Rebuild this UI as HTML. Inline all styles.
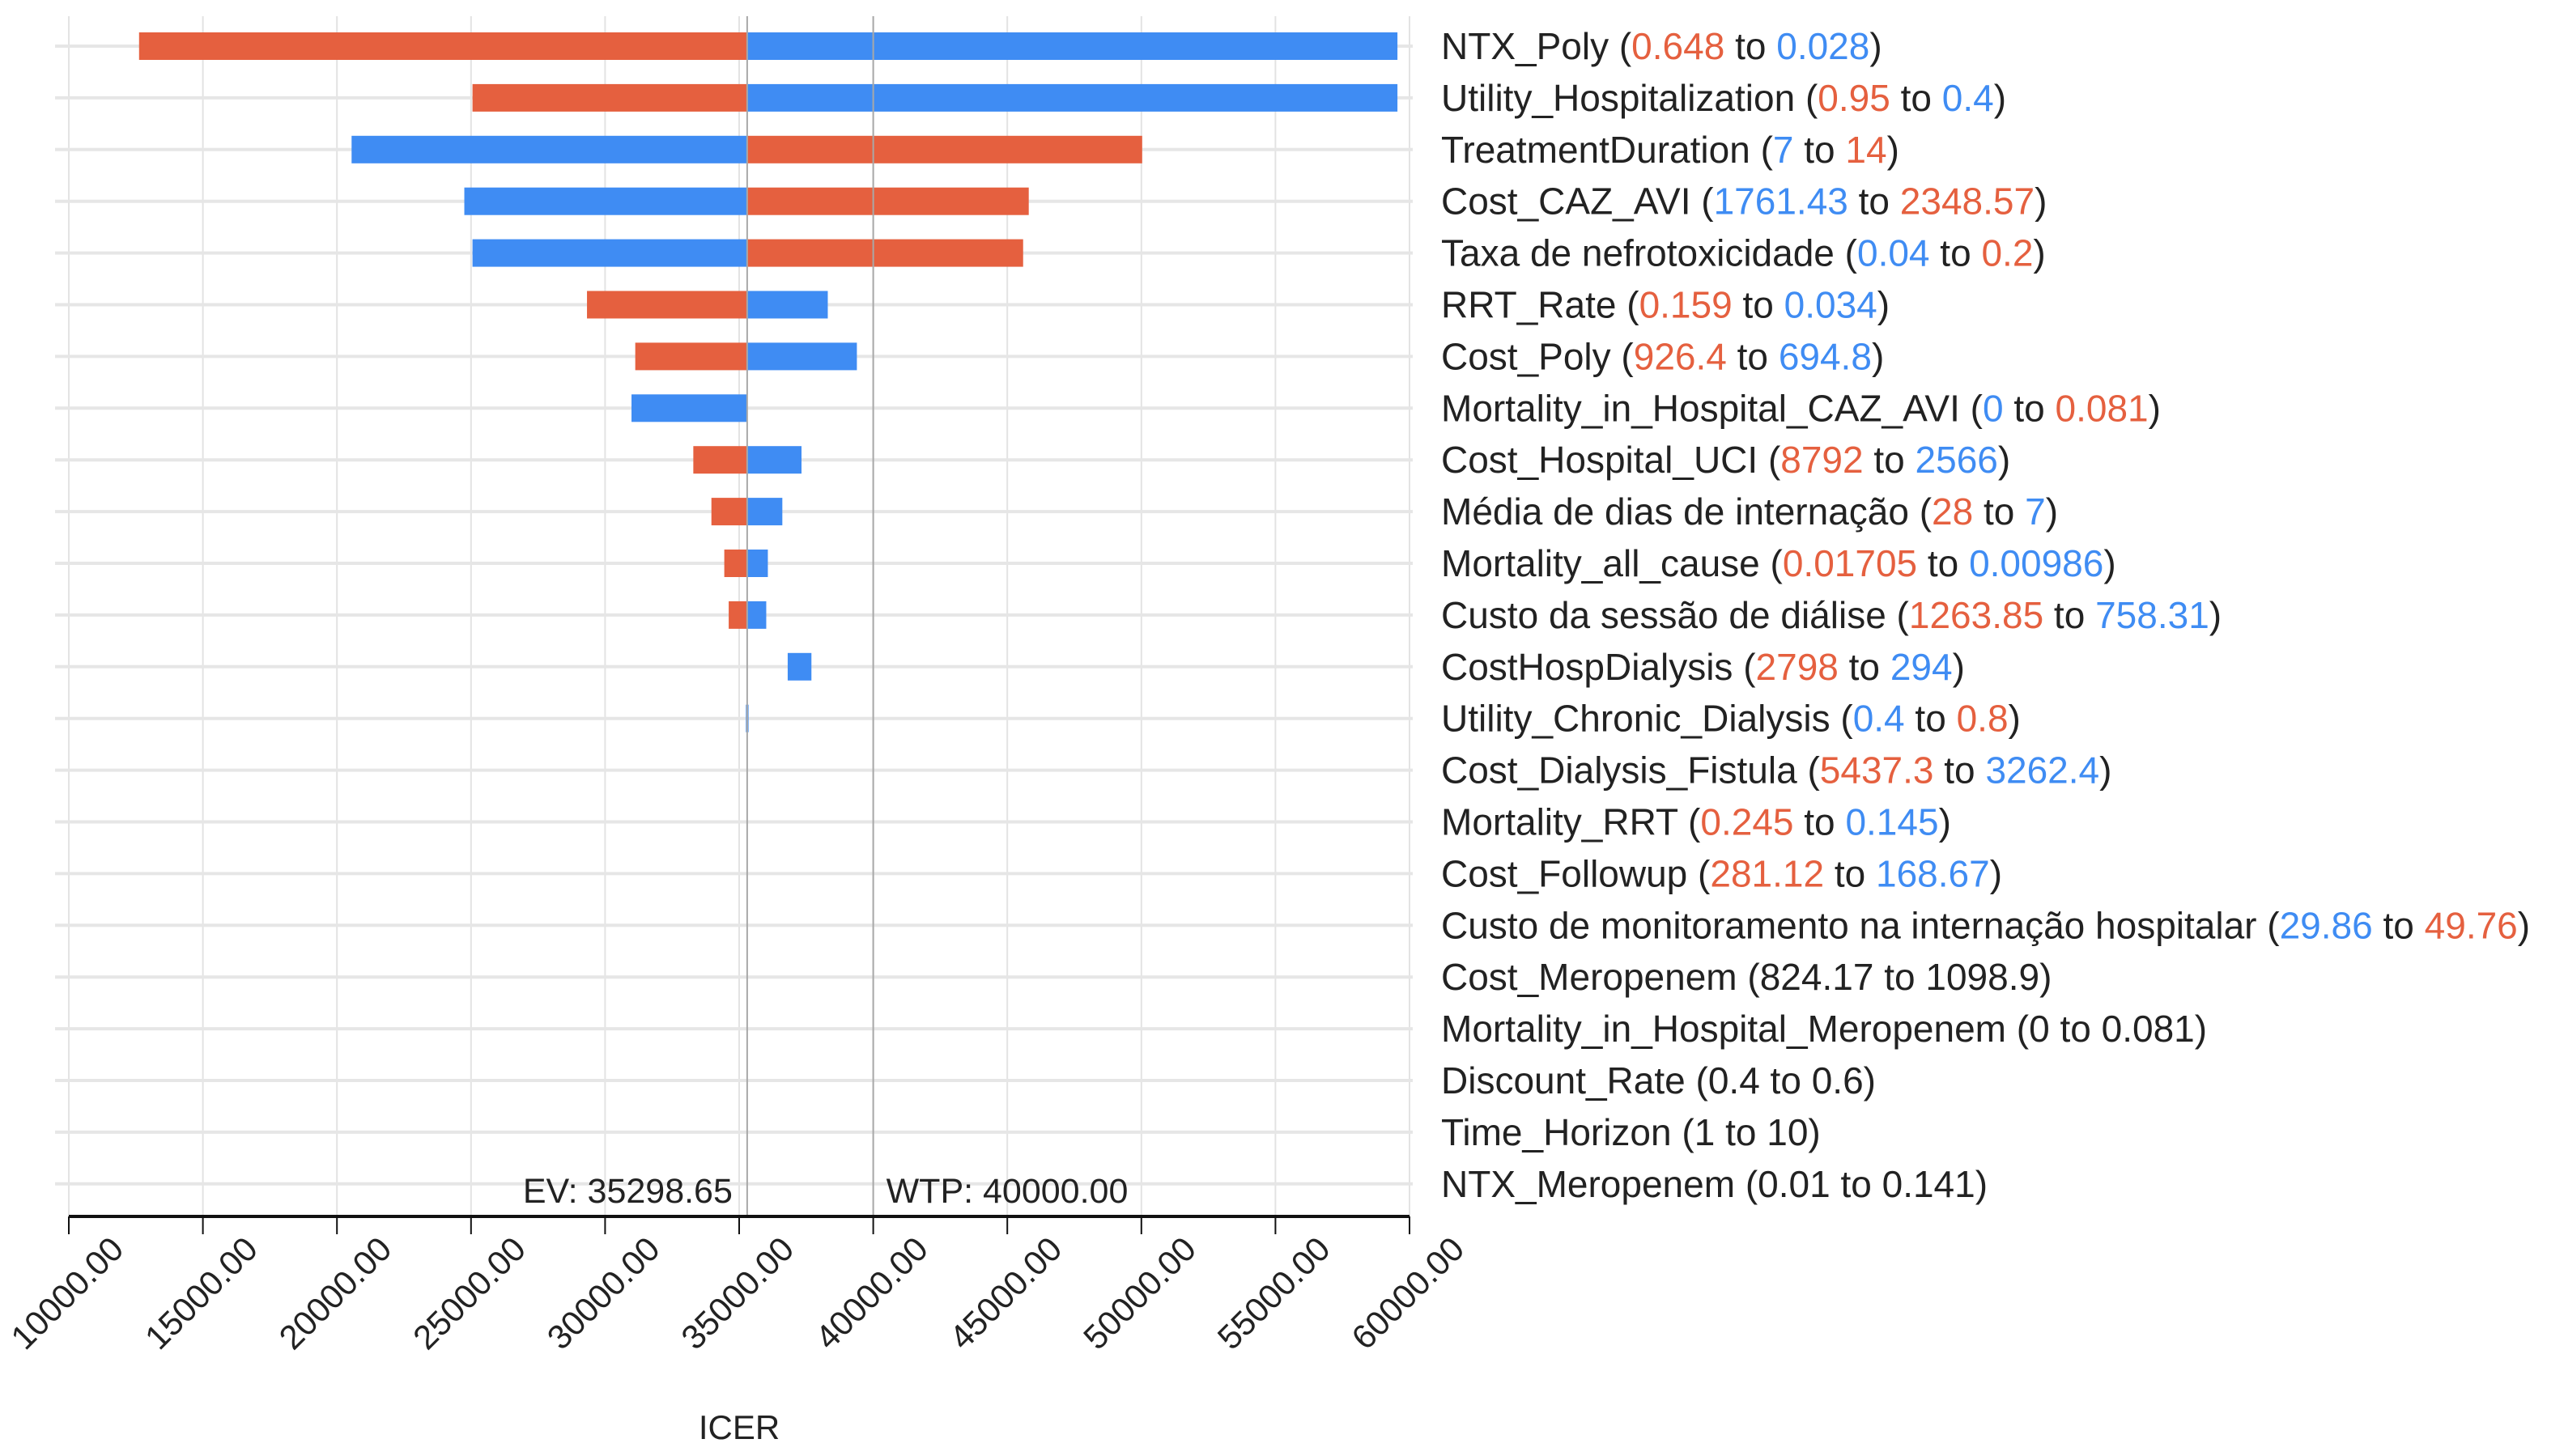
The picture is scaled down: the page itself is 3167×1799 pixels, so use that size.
<!DOCTYPE html>
<html><head><meta charset="utf-8"><style>
html,body{margin:0;padding:0;background:#fff;}
svg{display:block;font-family:"Liberation Sans",sans-serif;}
</style></head><body>
<svg id="chart" width="3167" height="1799" viewBox="0 0 3167 1799" xmlns="http://www.w3.org/2000/svg"></svg>
<script>
const names=["NTX_Poly","Utility_Hospitalization","TreatmentDuration","Cost_CAZ_AVI","Taxa de nefrotoxicidade","RRT_Rate","Cost_Poly","Mortality_in_Hospital_CAZ_AVI","Cost_Hospital_UCI","Média de dias de internação","Mortality_all_cause","Custo da sessão de diálise","CostHospDialysis","Utility_Chronic_Dialysis","Cost_Dialysis_Fistula","Mortality_RRT","Cost_Followup","Custo de monitoramento na internação hospitalar","Cost_Meropenem","Mortality_in_Hospital_Meropenem","Discount_Rate","Time_Horizon","NTX_Meropenem"];
const lowText=["0.648","0.95","7","1761.43","0.04","0.159","926.4","0","8792","28","0.01705","1263.85","2798","0.4","5437.3","0.245","281.12","29.86","824.17","0","0.4","1","0.01"];
const highText=["0.028","0.4","14","2348.57","0.2","0.034","694.8","0.081","2566","7","0.00986","758.31","294","0.8","3262.4","0.145","168.67","49.76","1098.9","0.081","0.6","10","0.141"];
const lowColor=["r","r","b","b","b","r","r","b","r","r","r","r","r","b","r","r","r","b","k","k","k","k","k"];
const redFrom=[12620,25055,35298.65,35298.65,35298.65,29325,31125,null,33290,33965,34445,34610,null,null,null,null,null,null,null,null,null,null,null];
const redTo=[35298.65,35298.65,50030,45800,45590,35298.65,35298.65,null,35298.65,35298.65,35298.65,35298.65,null,null,null,null,null,null,null,null,null,null,null];
const blueFrom=[35298.65,35298.65,20546,24750,25055,35298.65,35298.65,30985,35298.65,35298.65,35298.65,35298.65,36810,35250,null,null,null,null,null,null,null,null,null];
const blueTo=[59550,59550,35298.65,35298.65,35298.65,38305,39390,35298.65,37325,36610,36070,36010,37695,35350,null,null,null,null,null,null,null,null,null];
const ticks=[10000,15000,20000,25000,30000,35000,40000,45000,50000,55000,60000];
const tickLabels=["10000.00","15000.00","20000.00","25000.00","30000.00","35000.00","40000.00","45000.00","50000.00","55000.00","60000.00"];
const EV=35298.65, WTP=40000;

const NS="http://www.w3.org/2000/svg";
const svg=document.getElementById('chart');
const X0=85,X1=1741,XMIN=10000,XMAX=60000;
const x=v=>X0+(v-XMIN)/(XMAX-XMIN)*(X1-X0);
const Y0=57,DY=63.9;
const y=i=>Y0+i*DY;
const AXY=1503;
const COL={r:"#e5603f",b:"#3f8cf3",k:"#222"};
function mk(t,a,p){const e=document.createElementNS(NS,t);for(const k in a)e.setAttribute(k,a[k]);(p||svg).appendChild(e);return e;}

ticks.forEach((t,i)=>{
  const g=mk('line',{x1:x(t),x2:x(t),y1:20,y2:AXY,stroke:"#e3e3e3","stroke-width":2});
  
  
});
names.forEach((n,i)=>{
  const g=mk('line',{x1:68,x2:1745,y1:y(i),y2:y(i),stroke:"#e6e6e6","stroke-width":4});
  
  
});
const BH=34;
names.forEach((n,i)=>{
  if(redFrom[i]!=null){
    const a=Math.min(x(redFrom[i]),x(redTo[i])),b=Math.max(x(redFrom[i]),x(redTo[i]));
    const r=mk('rect',{x:a,y:y(i)-BH/2,width:Math.max(b-a,1.5),height:BH,fill:COL.r});
    
    
  }
  if(blueFrom[i]!=null){
    const a=Math.min(x(blueFrom[i]),x(blueTo[i])),b=Math.max(x(blueFrom[i]),x(blueTo[i]));
    const r=mk('rect',{x:a,y:y(i)-BH/2,width:Math.max(b-a,1.5),height:BH,fill:COL.b});
    
    
  }
});
const ev=mk('line',{x1:x(EV),x2:x(EV),y1:20,y2:AXY,stroke:"#a8a8a8","stroke-width":2});


const wtp=mk('line',{x1:x(WTP),x2:x(WTP),y1:20,y2:AXY,stroke:"#a8a8a8","stroke-width":2});


const evt=mk('text',{x:x(EV)-18,y:1486,"text-anchor":"end","font-size":43,fill:"#222"});
evt.textContent="EV: "+EV.toFixed(2);


const wt=mk('text',{x:x(WTP)+16,y:1486,"font-size":43,fill:"#222"});
wt.textContent="WTP: "+WTP.toFixed(2);


const ax=mk('line',{x1:X0,x2:X1,y1:AXY,y2:AXY,stroke:"#111","stroke-width":4});


ticks.forEach((t,i)=>{
  const tk=mk('line',{x1:x(t),x2:x(t),y1:AXY,y2:AXY+22,stroke:"#111","stroke-width":2});
  
  
  const tx=x(t)+70, ty=1546;
  const lb=mk('text',{x:tx,y:ty,"text-anchor":"end","font-size":42,fill:"#222",transform:`rotate(-45 ${tx} ${ty})`});
  lb.textContent=tickLabels[i];
  
  
});
const xt=mk('text',{x:913,y:1778,"text-anchor":"middle","font-size":42,fill:"#222"});
xt.textContent="ICER";


names.forEach((n,i)=>{
  const t=mk('text',{x:1780,y:y(i)+16,"font-size":46,fill:"#222"});
  
  
  const lc=lowColor[i], hc=lc==='r'?'b':(lc==='b'?'r':'k');
  const parts=[[n+" (","k"],[lowText[i],lc],[" to ","k"],[highText[i],hc],[")","k"]];
  parts.forEach(p=>{const s=mk('tspan',{fill:COL[p[1]]},t);s.textContent=p[0];});
});
</script>
</body></html>
